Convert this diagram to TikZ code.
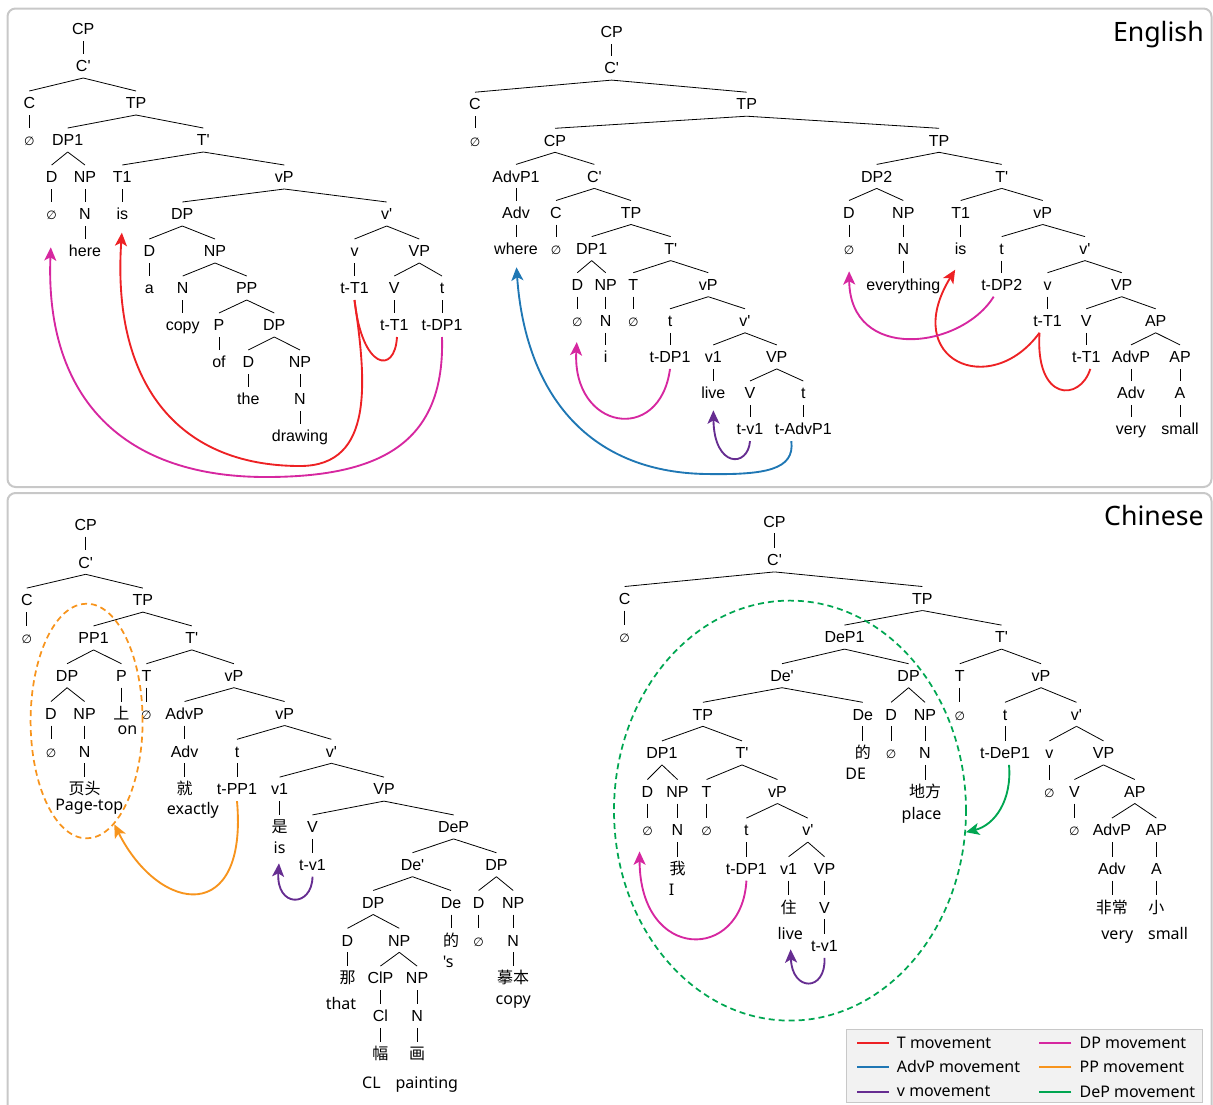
\documentclass[tikz,border=0pt]{standalone}
\usepackage{fontspec}
\usepackage{tikz}
\usetikzlibrary{arrows.meta,shapes.geometric}
\newfontfamily\tlfont{Liberation Sans}
\newfontfamily\glfont{Noto Sans}
\newfontfamily\cjk{Noto Sans CJK SC}
\newfontfamily\nulfont{DejaVu Sans}
\newcommand\nul{{\nulfont\fontsize{9}{9}\selectfont ∅}}
\definecolor{tcol}{RGB}{237,33,36}
\definecolor{advcol}{RGB}{31,119,180}
\definecolor{vcol}{RGB}{102,45,145}
\definecolor{dpcol}{RGB}{214,39,160}
\definecolor{ppcol}{RGB}{247,148,29}
\definecolor{depcol}{RGB}{0,166,81}
\definecolor{panelgray}{RGB}{200,200,200}
\definecolor{legfill}{RGB}{242,242,242}

\begin{document}
\begin{tikzpicture}[x=0.75pt,y=0.75pt,yscale=-1,xscale=1,
  lbl/.style={inner xsep=1pt,inner ysep=4.5pt,text height=8.6pt,text depth=0pt,font={\tlfont\fontsize{12}{14}\selectfont}},
  gls/.style={inner sep=0pt,text height=8.6pt,text depth=0pt,font={\glfont\fontsize{12}{14}\selectfont}},
  branch/.style={line width=0.6pt},
  mvline/.style={line width=1.4pt},
  mv/.style={mvline,-{Stealth[length=10pt,width=9pt,inset=2.5pt]}},
  ring/.style={draw=#1,ellipse,dash pattern=on 4.5pt off 3pt,line width=1.3pt,inner sep=0pt},
  panel/.style={draw=panelgray,line width=1.5pt,rounded corners=6pt},
  leg/.style={inner sep=0pt,anchor=west,font={\glfont\fontsize{12}{14}\selectfont}}]
\useasboundingbox (0,0) rectangle (1213,1104);

%Shape: Rectangle [panels]
\draw[panel] (7.5,8.5) rectangle (1211.5,487);
\draw[panel] (7.5,493) rectangle (1211.5,1125);

% Text Node
\node[anchor=east,inner sep=0pt,font={\glfont\fontsize{20}{24}\selectfont}] (ttlEn) at (1204,35) {English};
% Text Node
\node[anchor=east,inner sep=0pt,font={\glfont\fontsize{20}{24}\selectfont}] (ttlZh) at (1204,515) {Chinese};

% English tree 1
\node[lbl] (aCP) at (83.3,29) {CP};
\node[lbl] (aCb) at (83.3,66) {C'};
\node[lbl] (aC) at (29.3,103) {C};
\node[lbl] (aTP) at (136,103) {TP};
\node[lbl] (aCn) at (29.3,140) {\nul};
\node[lbl] (aDP) at (67.7,140) {DP1};
\node[lbl] (aTb) at (203.3,140) {T'};
\node[lbl] (aD) at (51.7,177) {D};
\node[lbl] (aNP) at (85,177) {NP};
\node[lbl] (aT) at (122.3,177) {T1};
\node[lbl] (avP) at (284.3,177) {vP};
\node[lbl] (aDn) at (51.7,214) {\nul};
\node[lbl] (aN) at (85,214) {N};
\node[lbl] (ais) at (122.3,214) {is};
\node[lbl] (aDP2) at (182.3,214) {DP};
\node[lbl] (avb) at (386.7,214) {v'};
\node[lbl] (ahere) at (85,251) {here};
\node[lbl] (aD2) at (149.3,251) {D};
\node[lbl] (aNP2) at (215,251) {NP};
\node[lbl] (av) at (354.5,251) {v};
\node[lbl] (aVP) at (419.3,251) {VP};
\node[lbl] (aa) at (149.3,288) {a};
\node[lbl] (aN2) at (182.7,288) {N};
\node[lbl] (aPP) at (246.7,288) {PP};
\node[lbl] (avt) at (354.5,288) {t-T1};
\node[lbl] (aV) at (394.3,288) {V};
\node[lbl] (atr) at (442,288) {t};
\node[lbl] (acopy) at (182.7,325) {copy};
\node[lbl] (aP) at (219,325) {P};
\node[lbl] (aDP3) at (274.3,325) {DP};
\node[lbl] (aVt) at (394.3,325) {t-T1};
\node[lbl] (atDP) at (442,325) {t-DP1};
\node[lbl] (aof) at (219,362) {of};
\node[lbl] (aD3) at (248.3,362) {D};
\node[lbl] (aNP3) at (300,362) {NP};
\node[lbl] (athe) at (248.3,399) {the};
\node[lbl] (aN3) at (300,399) {N};
\node[lbl] (adraw) at (300,436) {drawing};

\foreach \p/\c in {aCP/aCb,aCb/aC,aCb/aTP,aC/aCn,aTP/aDP,aTP/aTb,aDP/aD,aDP/aNP,aD/aDn,aNP/aN,aN/ahere,
  aTb/aT,aTb/avP,aT/ais,avP/aDP2,avP/avb,aDP2/aD2,aDP2/aNP2,aD2/aa,aNP2/aN2,aNP2/aPP,aN2/acopy,
  aPP/aP,aPP/aDP3,aP/aof,aDP3/aD3,aDP3/aNP3,aD3/athe,aNP3/aN3,aN3/adraw,avb/av,avb/aVP,av/avt,
  aVP/aV,aVP/atr,aV/aVt,atr/atDP}
  \draw[branch] (\p.south) -- (\c.north);

% English tree 2
\node[lbl] (bCP) at (611.7,32) {CP};
\node[lbl] (bCb) at (611.7,68.1) {C'};
\node[lbl] (bC) at (475,104.2) {C};
\node[lbl] (bTP) at (746.7,104.2) {TP};
\node[lbl] (bCn) at (475,140.3) {\nul};
\node[lbl] (bCP2) at (555,140.3) {CP};
\node[lbl] (bTP2) at (939,140.3) {TP};
\node[lbl] (bAdvP) at (516,176.4) {AdvP1};
\node[lbl] (bCb2) at (594.3,176.4) {C'};
\node[lbl] (bAdv) at (516,212.5) {Adv};
\node[lbl] (bC2) at (556,212.5) {C};
\node[lbl] (bTP3) at (631,212.5) {TP};
\node[lbl] (bwhere) at (516,248.6) {where};
\node[lbl] (bCn2) at (556,248.6) {\nul};
\node[lbl] (bDP) at (591.7,248.6) {DP1};
\node[lbl] (bTb) at (670.7,248.6) {T'};
\node[lbl] (bD) at (577.3,284.7) {D};
\node[lbl] (bNP) at (605.7,284.7) {NP};
\node[lbl] (bT) at (633.3,284.7) {T};
\node[lbl] (bvP) at (708.3,284.7) {vP};
\node[lbl] (bDn) at (577.3,320.8) {\nul};
\node[lbl] (bN) at (605.7,320.8) {N};
\node[lbl] (bTn) at (633.3,320.8) {\nul};
\node[lbl] (btr) at (670,320.8) {t};
\node[lbl] (bvb) at (745,320.8) {v'};
\node[lbl] (bi) at (605.7,356.9) {i};
\node[lbl] (btDP) at (670,356.9) {t-DP1};
\node[lbl] (bv) at (713.3,356.9) {v1};
\node[lbl] (bVP) at (776.7,356.9) {VP};
\node[lbl] (blive) at (713.3,393) {live};
\node[lbl] (bV) at (750,393) {V};
\node[lbl] (btr2) at (803.3,393) {t};
\node[lbl] (btv) at (750,429.1) {t-v1};
\node[lbl] (btAdv) at (803.3,429.1) {t-AdvP1};
\node[lbl] (bDP2) at (876.7,176.4) {DP2};
\node[lbl] (bTb2) at (1001.7,176.4) {T'};
\node[lbl] (bD2) at (849,212.5) {D};
\node[lbl] (bNP2) at (903.3,212.5) {NP};
\node[lbl] (bT1) at (960.7,212.5) {T1};
\node[lbl] (bvP2) at (1042.7,212.5) {vP};
\node[lbl] (bDn2) at (849,248.6) {\nul};
\node[lbl] (bN2) at (903.3,248.6) {N};
\node[lbl] (bis) at (960.7,248.6) {is};
\node[lbl] (btr3) at (1001.7,248.6) {t};
\node[lbl] (bvb2) at (1085,248.6) {v'};
\node[lbl] (bevery) at (903.3,284.7) {everything};
\node[lbl] (btDP2) at (1001.7,284.7) {t-DP2};
\node[lbl] (bv2) at (1047.5,284.7) {v};
\node[lbl] (bVP2) at (1121.7,284.7) {VP};
\node[lbl] (bvt) at (1047.5,320.8) {t-T1};
\node[lbl] (bV2) at (1086.3,320.8) {V};
\node[lbl] (bAP) at (1155.7,320.8) {AP};
\node[lbl] (bVt) at (1086.3,356.9) {t-T1};
\node[lbl] (bAdvP2) at (1131,356.9) {AdvP};
\node[lbl] (bAP2) at (1180,356.9) {AP};
\node[lbl] (bAdv2) at (1131,393) {Adv};
\node[lbl] (bA) at (1180,393) {A};
\node[lbl] (bvery) at (1131,429.1) {very};
\node[lbl] (bsmall) at (1180,429.1) {small};

\foreach \p/\c in {bCP/bCb,bCb/bC,bCb/bTP,bC/bCn,bTP/bCP2,bTP/bTP2,bCP2/bAdvP,bCP2/bCb2,bAdvP/bAdv,
  bAdv/bwhere,bCb2/bC2,bCb2/bTP3,bC2/bCn2,bTP3/bDP,bTP3/bTb,bDP/bD,bDP/bNP,bD/bDn,bNP/bN,bN/bi,
  bTb/bT,bTb/bvP,bT/bTn,bvP/btr,bvP/bvb,btr/btDP,bvb/bv,bvb/bVP,bv/blive,bVP/bV,bVP/btr2,bV/btv,
  btr2/btAdv,bTP2/bDP2,bTP2/bTb2,bDP2/bD2,bDP2/bNP2,bD2/bDn2,bNP2/bN2,bN2/bevery,bTb2/bT1,
  bTb2/bvP2,bT1/bis,bvP2/btr3,bvP2/bvb2,btr3/btDP2,bvb2/bv2,bvb2/bVP2,bv2/bvt,bVP2/bV2,bVP2/bAP,
  bV2/bVt,bAP/bAdvP2,bAP/bAP2,bAdvP2/bAdv2,bAP2/bA,bAdv2/bvery,bA/bsmall}
  \draw[branch] (\p.south) -- (\c.north);

% Chinese tree 1
\node[lbl] (cCP) at (85.7,524.5) {CP};
\node[lbl] (cCb) at (85.7,562.3) {C'};
\node[lbl] (cC) at (26.8,600.1) {C};
\node[lbl] (cTP) at (142.9,600.1) {TP};
\node[lbl] (cCn) at (26.8,637.9) {\nul};
\node[lbl] (cPP) at (93.6,637.9) {PP1};
\node[lbl] (cTb) at (191.8,637.9) {T'};
\node[lbl] (cDP) at (67.1,675.7) {DP};
\node[lbl] (cP) at (121.4,675.7) {P};
\node[lbl] (cT) at (146.4,675.7) {T};
\node[lbl] (cvP) at (233.9,675.7) {vP};
\node[lbl] (cD) at (51,713.5) {D};
\node[lbl] (cNP) at (84.6,713.5) {NP};
\node[lbl] (cshang) at (121.4,713.5) {\cjk 上};
\node[lbl] (cTn) at (146.4,713.5) {\nul};
\node[lbl] (cAdvP) at (184.6,713.5) {AdvP};
\node[lbl] (cvP2) at (284.6,713.5) {vP};
\node[lbl] (cDn) at (51,751.3) {\nul};
\node[lbl] (cN) at (84.6,751.3) {N};
\node[lbl] (cAdv) at (184.6,751.3) {Adv};
\node[lbl] (ctr) at (237,751.3) {t};
\node[lbl] (cvb) at (331.4,751.3) {v'};
\node[lbl] (cyetou) at (84.6,789.1) {\cjk 页头};
\node[lbl] (cjiu) at (184.6,789.1) {\cjk 就};
\node[lbl] (ctPP) at (237,789.1) {t-PP1};
\node[lbl] (cv) at (279.6,789.1) {v1};
\node[lbl] (cVP) at (384,789.1) {VP};
\node[lbl] (cshi) at (279.6,826.9) {\cjk 是};
\node[lbl] (cV) at (312.5,826.9) {V};
\node[lbl] (cDeP) at (453.6,826.9) {DeP};
\node[lbl] (ctv) at (312.5,864.7) {t-v1};
\node[lbl] (cDeb) at (412.5,864.7) {De'};
\node[lbl] (cDP2) at (496.4,864.7) {DP};
\node[lbl] (cDP3) at (373.2,902.5) {DP};
\node[lbl] (cDe) at (451,902.5) {De};
\node[lbl] (cD2) at (478.6,902.5) {D};
\node[lbl] (cNP2) at (513.2,902.5) {NP};
\node[lbl] (cD3) at (347.5,940.3) {D};
\node[lbl] (cNP3) at (399.3,940.3) {NP};
\node[lbl] (cde) at (451,940.3) {\cjk 的};
\node[lbl] (cDn2) at (478.6,940.3) {\nul};
\node[lbl] (cN2) at (513.2,940.3) {N};
\node[lbl] (cna) at (347.5,978.1) {\cjk 那};
\node[lbl] (cClP) at (380.4,978.1) {ClP};
\node[lbl] (cNP4) at (417.1,978.1) {NP};
\node[lbl] (cmoben) at (513.2,978.1) {\cjk 摹本};
\node[lbl] (cCl) at (380.4,1015.9) {Cl};
\node[lbl] (cN3) at (417.1,1015.9) {N};
\node[lbl] (cfu) at (380.4,1053.7) {\cjk 幅};
\node[lbl] (chua) at (417.1,1053.7) {\cjk 画};
% glosses
\node[gls] (cgon) at (127.5,729) {on};
\node[gls] (cgPT) at (89.3,805) {Page-top};
\node[gls] (cgex) at (192.9,809) {exactly};
\node[gls] (cgis) at (279.6,848) {is};
\node[gls] (cgs) at (448.2,962) {'s};
\node[gls] (cgthat) at (341,1004) {that};
\node[gls] (cgcopy) at (513.2,999) {copy};
\node[gls] (cgCL) at (371.4,1083) {CL};
\node[gls] (cgpaint) at (426.8,1083) {painting};

\foreach \p/\c in {cCP/cCb,cCb/cC,cCb/cTP,cC/cCn,cTP/cPP,cTP/cTb,cPP/cDP,cPP/cP,cDP/cD,cDP/cNP,
  cD/cDn,cNP/cN,cN/cyetou,cP/cshang,cTb/cT,cTb/cvP,cT/cTn,cvP/cAdvP,cvP/cvP2,cAdvP/cAdv,cAdv/cjiu,
  cvP2/ctr,cvP2/cvb,ctr/ctPP,cvb/cv,cvb/cVP,cv/cshi,cVP/cV,cVP/cDeP,cV/ctv,cDeP/cDeb,cDeP/cDP2,
  cDeb/cDP3,cDeb/cDe,cDP3/cD3,cDP3/cNP3,cD3/cna,cNP3/cClP,cNP3/cNP4,cClP/cCl,cCl/cfu,cNP4/cN3,
  cN3/chua,cDe/cde,cDP2/cD2,cDP2/cNP2,cD2/cDn2,cNP2/cN2,cN2/cmoben}
  \draw[branch] (\p.south) -- (\c.north);

% Chinese tree 2
\node[lbl] (dCP) at (774.5,521.3) {CP};
\node[lbl] (dCb) at (774.5,559.9) {C'};
\node[lbl] (dC) at (624.6,598.5) {C};
\node[lbl] (dTP) at (922.4,598.5) {TP};
\node[lbl] (dCn) at (624.6,637.1) {\nul};
\node[lbl] (dDeP) at (844.5,637.1) {DeP1};
\node[lbl] (dTb) at (1001.5,637.1) {T'};
\node[lbl] (dDeb) at (782,675.7) {De'};
\node[lbl] (dDP) at (908.6,675.7) {DP};
\node[lbl] (dT) at (959.8,675.7) {T};
\node[lbl] (dvP) at (1041,675.7) {vP};
\node[lbl] (dTP2) at (702.9,714.3) {TP};
\node[lbl] (dDe) at (862.8,714.3) {De};
\node[lbl] (dD) at (891.1,714.3) {D};
\node[lbl] (dNP) at (925,714.3) {NP};
\node[lbl] (dTn) at (959.8,714.3) {\nul};
\node[lbl] (dtr) at (1005,714.3) {t};
\node[lbl] (dvb) at (1076.5,714.3) {v'};
\node[lbl] (dDP1) at (662,752.9) {DP1};
\node[lbl] (dTb2) at (742,752.9) {T'};
\node[lbl] (dde) at (862.8,752.9) {\cjk 的};
\node[lbl] (dDn) at (891.1,752.9) {\nul};
\node[lbl] (dN) at (925,752.9) {N};
\node[lbl] (dtDeP) at (1005,752.9) {t-DeP1};
\node[lbl] (dv) at (1049.4,752.9) {v};
\node[lbl] (dVP) at (1103.5,752.9) {VP};
\node[lbl] (dD2) at (647.5,791.5) {D};
\node[lbl] (dNP2) at (677.5,791.5) {NP};
\node[lbl] (dT2) at (706.6,791.5) {T};
\node[lbl] (dvP2) at (777.4,791.5) {vP};
\node[lbl] (ddifang) at (925,791.5) {\cjk 地方};
\node[lbl] (dvn) at (1049.4,791.5) {\nul};
\node[lbl] (dV) at (1074.4,791.5) {V};
\node[lbl] (dAP) at (1134.8,791.5) {AP};
\node[lbl] (dDn2) at (647.5,830.1) {\nul};
\node[lbl] (dN2) at (677.5,830.1) {N};
\node[lbl] (dTn2) at (706.6,830.1) {\nul};
\node[lbl] (dtr2) at (746.4,830.1) {t};
\node[lbl] (dvb2) at (807.8,830.1) {v'};
\node[lbl] (dVn) at (1074.4,830.1) {\nul};
\node[lbl] (dAdvP) at (1111.9,830.1) {AdvP};
\node[lbl] (dAP2) at (1156.4,830.1) {AP};
\node[lbl] (dwo) at (677.5,868.7) {\cjk 我};
\node[lbl] (dtDP) at (746.4,868.7) {t-DP1};
\node[lbl] (dv1) at (788.6,868.7) {v1};
\node[lbl] (dVP2) at (824.5,868.7) {VP};
\node[lbl] (dAdv) at (1111.9,868.7) {Adv};
\node[lbl] (dA) at (1156.4,868.7) {A};
\node[lbl] (dzhu) at (788.6,907.3) {\cjk 住};
\node[lbl] (dV2) at (824.5,907.3) {V};
\node[lbl] (dfeich) at (1111.9,907.3) {\cjk 非常};
\node[lbl] (dxiao) at (1156.4,907.3) {\cjk 小};
\node[lbl] (dtv) at (824.5,945.9) {t-v1};
% glosses
\node[gls] (dgDE) at (855.7,774) {DE};
\node[gls] (dgplace) at (921.5,814) {place};
\node[gls] (dgI) at (671.6,890) {I};
\node[gls] (dglive) at (790.3,934) {live};
\node[gls] (dgvery) at (1117.3,934) {very};
\node[gls] (dgsmall) at (1168,934) {small};

\foreach \p/\c in {dCP/dCb,dCb/dC,dCb/dTP,dC/dCn,dTP/dDeP,dTP/dTb,dDeP/dDeb,dDeP/dDP,dDeb/dTP2,
  dDeb/dDe,dDe/dde,dDP/dD,dDP/dNP,dD/dDn,dNP/dN,dN/ddifang,dTP2/dDP1,dTP2/dTb2,dDP1/dD2,dDP1/dNP2,
  dD2/dDn2,dNP2/dN2,dN2/dwo,dTb2/dT2,dTb2/dvP2,dT2/dTn2,dvP2/dtr2,dvP2/dvb2,dtr2/dtDP,dvb2/dv1,
  dvb2/dVP2,dv1/dzhu,dVP2/dV2,dV2/dtv,dTb/dT,dTb/dvP,dT/dTn,dvP/dtr,dvP/dvb,dtr/dtDeP,dvb/dv,
  dvb/dVP,dv/dvn,dVP/dV,dVP/dAP,dV/dVn,dAP/dAdvP,dAP/dAP2,dAdvP/dAdv,dAdv/dfeich,dAP2/dA,dA/dxiao}
  \draw[branch] (\p.south) -- (\c.north);

%Shape: Ellipse [moved constituents]
\node[ring=ppcol,minimum width=84pt,minimum height=176pt] (cPPring) at (86.6,721) {};
\node[ring=depcol,minimum width=264pt,minimum height=315pt] (dDePring) at (790,810.6) {};

%Curve Lines [T movement]
\draw[mvline,tcol] ([xshift=2pt]aVt.south) .. controls (395,375) and (362,370) .. (avt.south);
\draw[mv,tcol,shorten >=5pt] (avt.south) .. controls (366,380) and (375,466) .. (300,466) .. controls (175,466) and (112,380) .. (ais.south);
\draw[mvline,tcol] ([xshift=3pt]bVt.south) .. controls (1080,402) and (1035,402) .. ([xshift=-6pt]bvt.south);
\draw[mv,tcol,shorten >=8pt] ([xshift=-6pt]bvt.south) .. controls (990,400) and (900,360) .. (bis.south);
%Curve Lines [DP movement]
\draw[mv,dpcol,shorten >=16pt] (atDP.south) .. controls (445,440) and (385,477) .. (266,477) .. controls (115,477) and (45,390) .. (aDn.south);
\draw[mv,dpcol,shorten >=7pt] (btDP.south) .. controls (660,445) and (572,430) .. (bDn.south);
\draw[mv,dpcol,shorten >=8pt] ([xshift=-6pt]btDP2.south) .. controls (960,350) and (850,362) .. (bDn2.south);
\draw[mv,dpcol,shorten >=7pt] (dtDP.south) .. controls (742,962) and (640,962) .. ([xshift=-6pt]dDn2.south);
%Curve Lines [AdvP movement]
\draw[mv,advcol,shorten >=5pt] ([xshift=-9pt]btAdv.south) .. controls (795,470) and (765,475) .. (706,474) .. controls (585,472) and (525,390) .. (bwhere.south);
%Curve Lines [v movement]
\draw[mv,vcol,shorten >=4pt] (btv.south) .. controls (748,468) and (714,468) .. (blive.south);
\draw[mv,vcol,shorten >=7pt] (ctv.south) .. controls (312,908) and (276,908) .. (cgis.south);
\draw[mv,vcol,shorten >=7pt] (dtv.south) .. controls (826,992) and (792,992) .. (dglive.south);
%Curve Lines [PP movement]
\draw[mv,ppcol] (ctPP.south) .. controls (248,925) and (160,915) .. (cPPring.-75);
%Curve Lines [DeP movement]
\draw[mv,depcol] ([xshift=3pt]dtDeP.south) .. controls (1012,800) and (995,825) .. (dDePring.-7);

%Shape: Rectangle [legend]
\draw[draw=panelgray,fill=legfill,line width=0.8pt] (846.7,1029.3) rectangle (1202.7,1102.7);
\node[leg] (lgT) at (896.7,1042.7) {T movement};
\node[leg] (lgAdv) at (896.7,1066.7) {AdvP movement};
\node[leg] (lgv) at (896.7,1091.7) {v movement};
\node[leg] (lgDP) at (1079.3,1042.7) {DP movement};
\node[leg] (lgPP) at (1079.3,1066.7) {PP movement};
\node[leg] (lgDeP) at (1079.3,1091.7) {DeP movement};
\draw[tcol,line width=1.5pt] ([xshift=-6pt]lgT.west) -- ++(-32,0);
\draw[advcol,line width=1.5pt] ([xshift=-6pt]lgAdv.west) -- ++(-32,0);
\draw[vcol,line width=1.5pt] ([xshift=-6pt]lgv.west) -- ++(-32,0);
\draw[dpcol,line width=1.5pt] ([xshift=-6pt]lgDP.west) -- ++(-32,0);
\draw[ppcol,line width=1.5pt] ([xshift=-6pt]lgPP.west) -- ++(-32,0);
\draw[depcol,line width=1.5pt] ([xshift=-6pt]lgDeP.west) -- ++(-32,0);

\end{tikzpicture}
\end{document}
